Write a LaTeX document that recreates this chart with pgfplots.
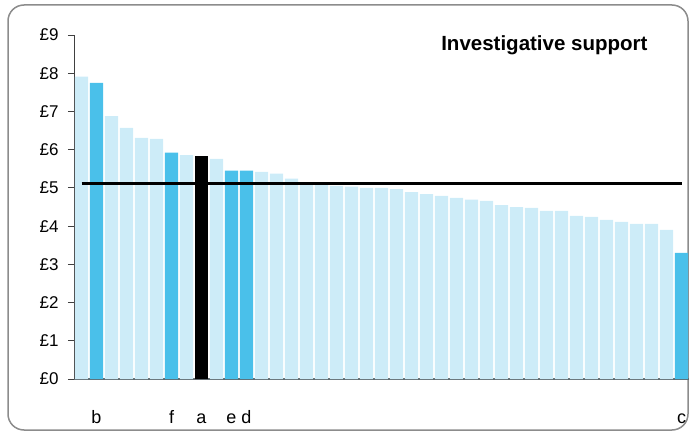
\documentclass[border=0pt]{standalone}
\usepackage{fontspec}
\setmainfont{Liberation Sans}
\usepackage{pgfplots}
\pgfplotsset{compat=1.18}
\definecolor{lightbar}{RGB}{205,236,248}
\definecolor{darkbar}{RGB}{74,192,234}
\definecolor{framegray}{RGB}{140,140,140}
\definecolor{xaxisgray}{RGB}{95,105,110}
\begin{document}
\begin{tikzpicture}
\useasboundingbox (0,0) rectangle (689pt,432pt);
\draw[framegray, line width=1.5pt, rounded corners=16pt] (8pt,2pt) rectangle (688pt,427pt);
\begin{axis}[
  at={(74pt,53pt)}, anchor=south west,
  scale only axis, width=615pt, height=344pt,
  xmin=0.5, xmax=41.5, ymin=0, ymax=9,
  axis lines*=left,
  x axis line style={draw=xaxisgray, line width=2pt},
  y axis line style={draw=black!75, line width=0.9pt},
  xtick={2,7,9,11,12,41},
  xticklabels={b,f,a,e,d,c},
  major x tick style={draw=none},
  xticklabel style={anchor=base, yshift=-38pt, font=\fontsize{18}{20}\selectfont},
  ytick={0,1,...,9},
  yticklabels={£0,£1,£2,£3,£4,£5,£6,£7,£8,£9},
  tick align=outside,
  major tick length=6pt,
  ytick style={draw=black!75, line width=0.9pt},
  yticklabel style={font=\fontsize{17}{19}\selectfont, xshift=-6pt},
  clip=false,
]
\addplot[ybar, bar shift=0pt, bar width=0.87, fill=lightbar, draw=none] coordinates {
(1,7.91) (3,6.88) (4,6.57) (5,6.31) (6,6.28) (8,5.86) (10,5.76)
(13,5.42) (14,5.37) (15,5.24) (16,5.13) (17,5.11) (18,5.05) (19,5.03) (20,5.00)
(21,5.00) (22,4.97) (23,4.89) (24,4.84) (25,4.79) (26,4.74) (27,4.69) (28,4.66)
(29,4.55) (30,4.50) (31,4.48) (32,4.40) (33,4.40) (34,4.27) (35,4.24) (36,4.16)
(37,4.11) (38,4.06) (39,4.06) (40,3.90)
};
\addplot[ybar, bar shift=0pt, bar width=0.87, fill=darkbar, draw=none] coordinates {
(2,7.75) (7,5.92) (11,5.45) (12,5.45) (41,3.30)
};
\addplot[ybar, bar shift=0pt, bar width=0.87, fill=black, draw=none] coordinates {
(9,5.84)
};
\addplot[black, line width=2.6pt] coordinates {(1,5.12) (41,5.12)};
\end{axis}
\node[anchor=base east, font=\bfseries\fontsize{20.5}{24}\selectfont] at (651pt,381pt) {Investigative support};
\end{tikzpicture}
\end{document}
